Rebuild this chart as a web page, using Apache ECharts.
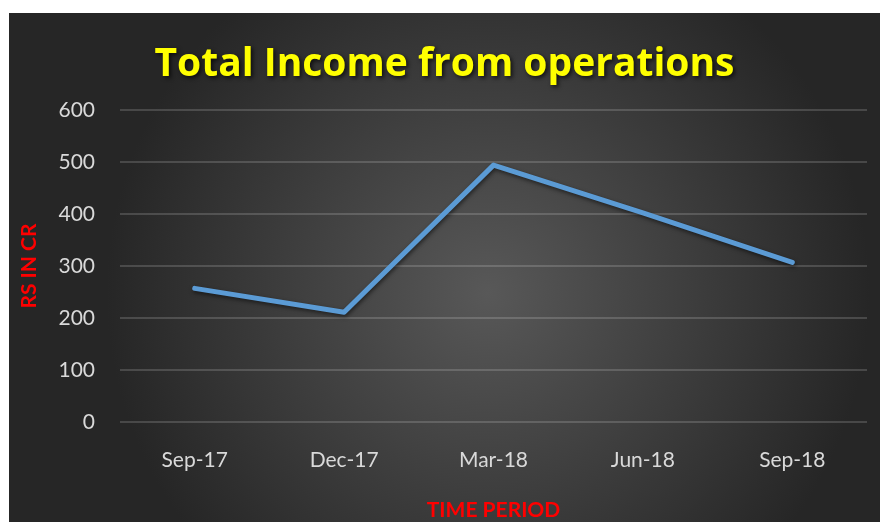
<!DOCTYPE html>
<html>
<head>
<meta charset="utf-8">
<script src="https://cdn.jsdelivr.net/npm/echarts@6/dist/echarts.min.js"></script>
<style>
  html, body { margin: 0; padding: 0; background: #fff; }
  #chart {
    position: absolute; left: 9px; top: 13px; width: 871px; height: 509px;
  }
</style>
</head>
<body>
<div id="chart"></div>
<script>
  // data
  var periods = ['Sep-17', 'Dec-17', 'Mar-18', 'Jun-18', 'Sep-18'];
  var income = [257, 211, 494, 402, 307];

  var myChart = echarts.init(document.getElementById('chart'));
  var option = {
    backgroundColor: {
      type: 'radial', x: 0.55, y: 0.55, r: 0.75,
      colorStops: [
        { offset: 0, color: '#585858' },
        { offset: 1, color: '#262626' }
      ]
    },
    title: {
      text: 'Total Income from operations',
      left: 'center',
      top: 27,
      textStyle: {
        color: '#ffff00',
        fontFamily: 'Open Sans',
        fontSize: 39,
        fontWeight: 'bold',
        textShadowColor: 'rgba(0,0,0,0.7)',
        textShadowBlur: 4,
        textShadowOffsetX: 2,
        textShadowOffsetY: 2
      }
    },
    grid: { left: 111, right: 13, top: 97, bottom: 100, outerBoundsMode: 'none' },
    xAxis: {
      type: 'category',
      data: periods,
      name: 'TIME PERIOD',
      nameLocation: 'middle',
      nameGap: 78,
      nameTextStyle: { color: '#ff0000', fontWeight: 'bold', fontSize: 21, fontFamily: 'Lato' },
      axisLine: { show: false },
      axisTick: { show: false },
      axisLabel: { color: '#d9d9d9', fontSize: 21, fontFamily: 'Lato', margin: 28 }
    },
    yAxis: {
      type: 'value',
      min: 0, max: 600, interval: 100,
      name: 'RS IN CR',
      nameLocation: 'middle',
      nameGap: 80,
      nameTextStyle: { color: '#ff0000', fontWeight: 'bold', fontSize: 21, fontFamily: 'Lato' },
      axisLine: { show: false },
      axisTick: { show: false },
      axisLabel: { color: '#d9d9d9', fontSize: 21, fontFamily: 'Lato', margin: 25 },
      splitLine: { lineStyle: { color: 'rgba(255,255,255,0.16)', width: 2 } }
    },
    series: [{
      type: 'line',
      data: income,
      symbol: 'none',
      lineStyle: {
        color: '#5b9bd5', width: 5, cap: 'round', join: 'round',
        shadowColor: 'rgba(0,0,0,0.55)', shadowBlur: 4, shadowOffsetX: 1, shadowOffsetY: 2
      }
    }]
  };
  myChart.setOption(option);
</script>
</body>
</html>
